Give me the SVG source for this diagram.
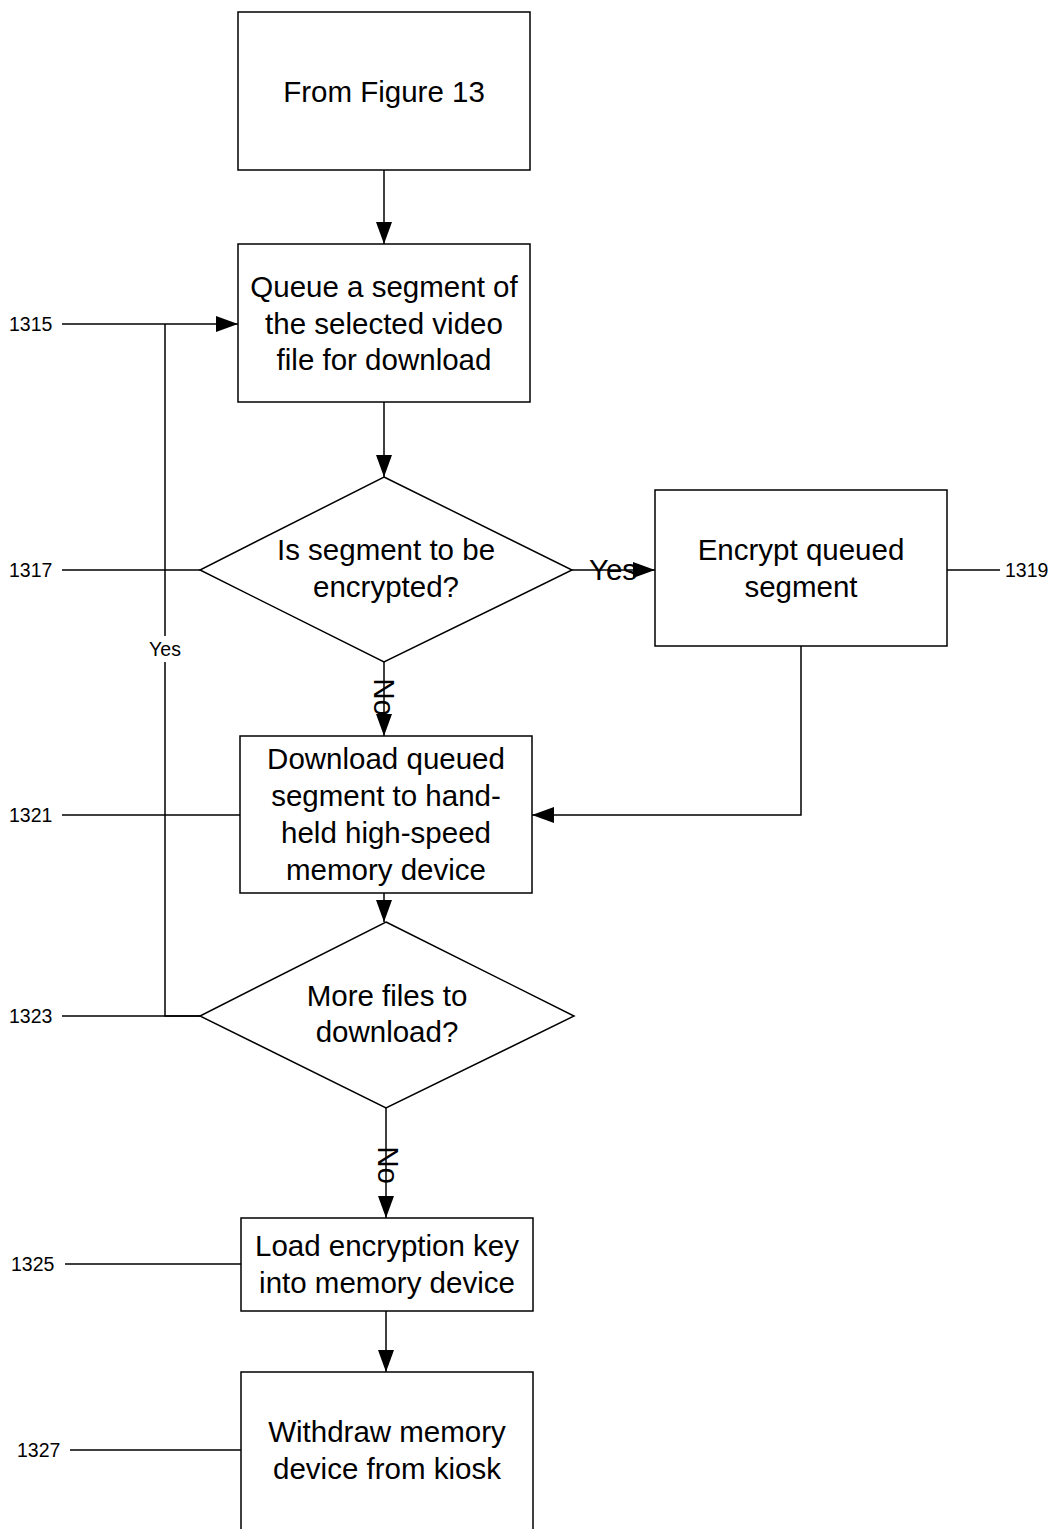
<svg xmlns="http://www.w3.org/2000/svg" width="1061" height="1529" viewBox="0 0 1061 1529">
<defs>
<marker id="ahb" markerWidth="22" markerHeight="16" refX="22" refY="8" orient="auto" markerUnits="userSpaceOnUse">
<path d="M0,0 L22,8 L0,16 Z" fill="#000"/>
</marker>
<style>
.box{fill:#fff;stroke:#000;stroke-width:1.5}
.t{font-family:"Liberation Sans",Arial,sans-serif;font-size:29.5px;text-anchor:middle;fill:#000}
.lbl{font-family:"Liberation Sans",Arial,sans-serif;font-size:19.5px;fill:#000}
.ln{fill:none;stroke:#000;stroke-width:1.5}
</style>
</defs>
<rect width="1061" height="1529" fill="#fff"/>
<g id="connectors">
<line class="ln" x1="384" y1="170" x2="384" y2="244" marker-end="url(#ahb)"/>
<line class="ln" x1="384" y1="402" x2="384" y2="477" marker-end="url(#ahb)"/>
<line class="ln" x1="572" y1="570" x2="655" y2="570" marker-end="url(#ahb)"/>
<line class="ln" x1="384" y1="662" x2="384" y2="736" marker-end="url(#ahb)"/>
<polyline class="ln" points="801,646 801,815 532,815" marker-end="url(#ahb)"/>
<line class="ln" x1="384" y1="893" x2="384" y2="922" marker-end="url(#ahb)"/>
<line class="ln" x1="386" y1="1108" x2="386" y2="1218" marker-end="url(#ahb)"/>
<line class="ln" x1="386" y1="1311" x2="386" y2="1372" marker-end="url(#ahb)"/>
<polyline class="ln" points="200,1016 165,1016 165,324"/>
<line class="ln" x1="62" y1="324" x2="238" y2="324" marker-end="url(#ahb)"/>
<rect x="140" y="636" width="50" height="26" fill="#fff"/>
<text class="lbl" x="165" y="656" text-anchor="middle">Yes</text>
<text class="t" x="613" y="580">Yes</text>
<text class="t" x="384" y="697" transform="rotate(90 384 697)" dy="10">No</text>
<text class="t" x="388" y="1165" transform="rotate(90 388 1165)" dy="10">No</text>
<line class="ln" x1="62" y1="570" x2="200" y2="570"/>
<line class="ln" x1="947" y1="570" x2="1000" y2="570"/>
<line class="ln" x1="62" y1="815" x2="240" y2="815"/>
<line class="ln" x1="62" y1="1016" x2="200" y2="1016"/>
<line class="ln" x1="65" y1="1264" x2="241" y2="1264"/>
<line class="ln" x1="70" y1="1450" x2="241" y2="1450"/>
</g>
<g id="n1"><rect class="box" x="238" y="12" width="292" height="158"/><text class="t" x="384" y="102">From Figure 13</text></g>
<g id="n1315"><rect class="box" x="238" y="244" width="292" height="158"/><text class="t" x="384" y="297">Queue a segment of</text><text class="t" x="384" y="334">the selected video</text><text class="t" x="384" y="370">file for download</text><text class="lbl" x="9" y="331">1315</text></g>
<g id="n1317"><polygon class="box" points="384,477 572,570 384,662 200,570"/><text class="t" x="386" y="560">Is segment to be</text><text class="t" x="386" y="597">encrypted?</text><text class="lbl" x="9" y="577">1317</text></g>
<g id="n1319"><rect class="box" x="655" y="490" width="292" height="156"/><text class="t" x="801" y="560">Encrypt queued</text><text class="t" x="801" y="597">segment</text><text class="lbl" x="1005" y="577">1319</text></g>
<g id="n1321"><rect class="box" x="240" y="736" width="292" height="157"/><text class="t" x="386" y="769">Download queued</text><text class="t" x="386" y="806">segment to hand-</text><text class="t" x="386" y="843">held high-speed</text><text class="t" x="386" y="880">memory device</text><text class="lbl" x="9" y="822">1321</text></g>
<g id="n1323"><polygon class="box" points="386,922 574,1016 386,1108 200,1016"/><text class="t" x="387" y="1006">More files to</text><text class="t" x="387" y="1042">download?</text><text class="lbl" x="9" y="1023">1323</text></g>
<g id="n1325"><rect class="box" x="241" y="1218" width="292" height="93"/><text class="t" x="387" y="1256">Load encryption key</text><text class="t" x="387" y="1293">into memory device</text><text class="lbl" x="11" y="1271">1325</text></g>
<g id="n1327"><rect class="box" x="241" y="1372" width="292" height="170"/><text class="t" x="387" y="1442">Withdraw memory</text><text class="t" x="387" y="1479">device from kiosk</text><text class="lbl" x="17" y="1457">1327</text></g>
</svg>
